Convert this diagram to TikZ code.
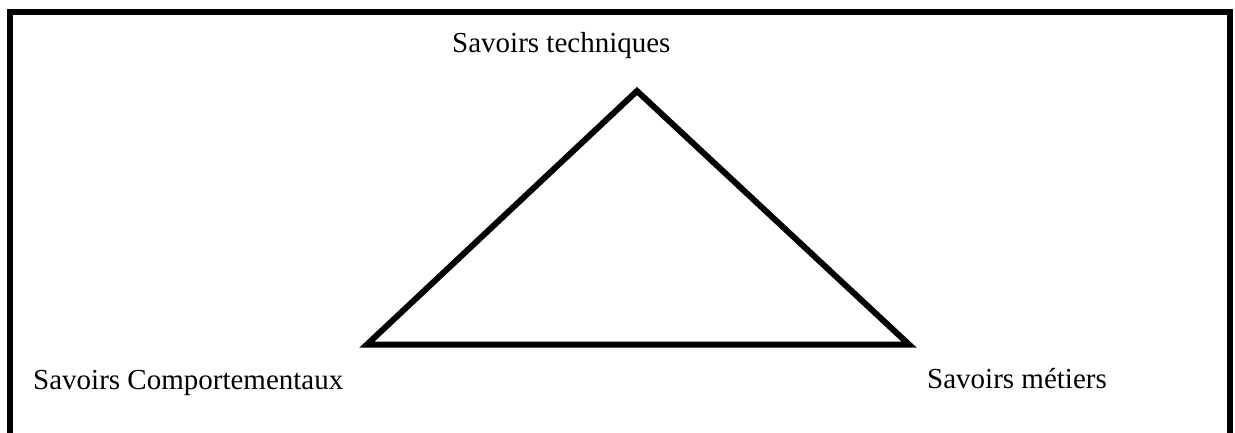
\documentclass[tikz,border=0pt]{standalone}
\usepackage{fontspec}
\setmainfont{Liberation Serif}
\begin{document}
\begin{tikzpicture}[x=1pt,y=-1pt,
  frame/.style={draw=black,line width=6pt},
  tri/.style={draw=black,line width=6pt,line join=miter},
  lbl/.style={inner sep=0pt,anchor=base west,font=\fontsize{29}{34}\selectfont}]
\useasboundingbox (0,0) rectangle (1235,432);
\begin{scope}
\clip (0,0) rectangle (1235,432);
\draw[frame] (10,12) rectangle (1229.5,438);
\end{scope}
\coordinate (top) at (637,91);
\coordinate (left) at (367,344.5);
\coordinate (right) at (909,344.5);
\draw[tri] (top) -- (left) -- (right) -- cycle;
\node[lbl] (tech) at (452,52) {Savoirs techniques};
\node[lbl] (comp) at (33,389) {Savoirs Comportementaux};
\node[lbl] (met) at (927,388) {Savoirs métiers};
\end{tikzpicture}
\end{document}
